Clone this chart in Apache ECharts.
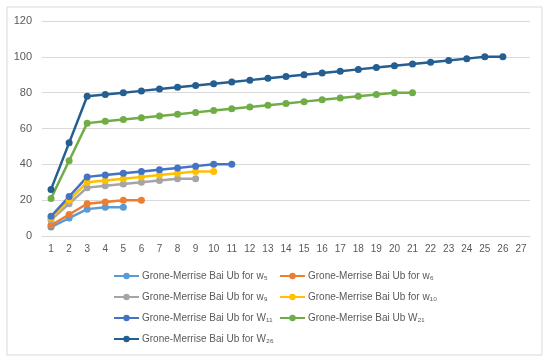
<!DOCTYPE html>
<html><head><meta charset="utf-8">
<script src="https://cdn.jsdelivr.net/npm/echarts@6/dist/echarts.min.js"></script>
<style>html,body{margin:0;padding:0;background:#fff}#c{width:550px;height:363px}</style>
</head><body><div id="c"></div>
<script>
const categories = Array.from({length:27},(_,i)=>String(i+1));
const yTicks = [0,20,40,60,80,100,120];
const names = ['Grone-Merrise Bai Ub for w₅','Grone-Merrise Bai Ub for w₆','Grone-Merrise Bai Ub for w₉','Grone-Merrise Bai Ub for w₁₀','Grone-Merrise Bai Ub for W₁₁','Grone-Merrise Bai Ub W₂₁','Grone-Merrise Bai Ub for W₂₆'];
const w5 = [5,10,15,16,16];
const w6 = [6,12,18,19,20,20];
const w9 = [9,18,27,28,29,30,31,32,32];
const w10 = [10,20,30,31,32,33,34,35,36,36];
const W11 = [11,22,33,34,35,36,37,38,39,40,40];
const W21 = [21,42,63,64,65,66,67,68,69,70,71,72,73,74,75,76,77,78,79,80,80];
const W26 = [26,52,78,79,80,81,82,83,84,85,86,87,88,89,90,91,92,93,94,95,96,97,98,99,100,100];
const colors = ['#5B9BD5','#ED7D31','#A5A5A5','#FFC000','#4472C4','#70AD47','#255E91'];
const data = [w5,w6,w9,w10,W11,W21,W26];

const chart = echarts.init(document.getElementById('c'));
const legendBase = {itemWidth:25, itemHeight:8, itemGap:14, itemStyle:{}, 
  textStyle:{fontFamily:'Liberation Sans, Arial', fontSize:10, color:'#595959', padding:[0,0,0,-2]}, orient:'horizontal'};
chart.setOption({
  color: colors,
  animation:false,
  graphic:[{type:'rect',shape:{x:7,y:7,width:535,height:348},style:{fill:'none',stroke:'#D9D9D9',lineWidth:1}}],
  grid:{left:42,right:20,top:21,bottom:127},
  xAxis:{type:'category',data:categories,boundaryGap:true,
    axisLine:{lineStyle:{color:'#D9D9D9'}},axisTick:{show:false},
    axisLabel:{color:'#595959',fontSize:10,fontFamily:'Liberation Sans, Arial',margin:8,interval:0}},
  yAxis:{type:'value',min:0,max:120,interval:20,
    axisLine:{show:false},axisTick:{show:false},
    splitLine:{lineStyle:{color:'#D9D9D9'}},
    axisLabel:{color:'#595959',fontSize:11,fontFamily:'Liberation Sans, Arial',margin:10}},
  legend:[
    Object.assign({},legendBase,{left:108,top:266,data:[names[0]]}),
    Object.assign({},legendBase,{left:274,top:266,data:[names[1]]}),
    Object.assign({},legendBase,{left:108,top:287,data:[names[2]]}),
    Object.assign({},legendBase,{left:274,top:287,data:[names[3]]}),
    Object.assign({},legendBase,{left:108,top:308,data:[names[4]]}),
    Object.assign({},legendBase,{left:274,top:308,data:[names[5]]}),
    Object.assign({},legendBase,{left:108,top:329,data:[names[6]]})
  ],
  series: data.map((d,i)=>({name:names[i],type:'line',data:d,symbol:'circle',symbolSize:7,
    lineStyle:{width:2.5,color:colors[i]},itemStyle:{color:colors[i]}}))
});
</script></body></html>
